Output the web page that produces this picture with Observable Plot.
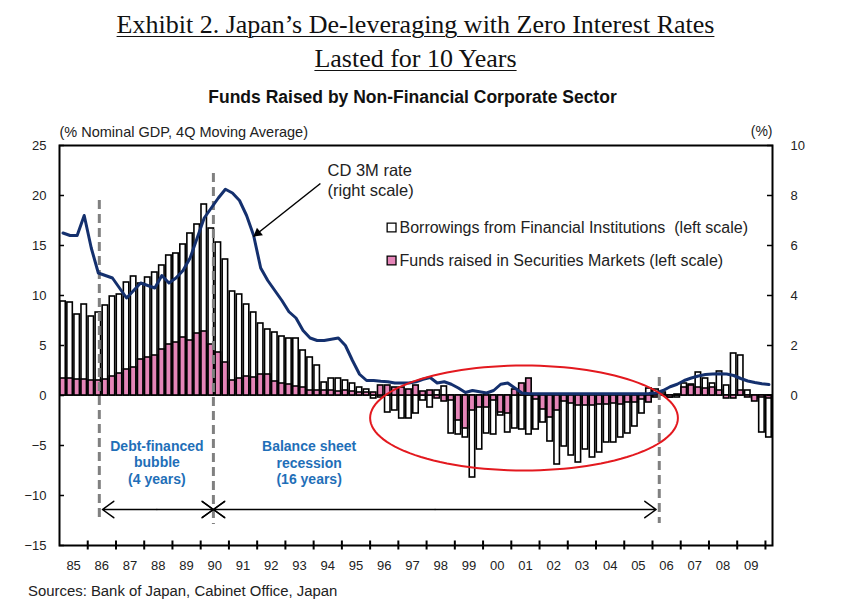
<!DOCTYPE html>
<html><head><meta charset="utf-8">
<script src="https://cdn.jsdelivr.net/npm/d3@7"></script>
<script src="https://cdn.jsdelivr.net/npm/@observablehq/plot@0.6"></script>
<style>
body{margin:0;width:843px;height:609px;position:relative;background:#fff;overflow:hidden;font-family:"Liberation Sans",Arial,sans-serif;color:#222}
.t{position:absolute;left:-6px;width:843px;text-align:center;white-space:nowrap}
.t1{top:10px;font-family:"Liberation Serif","Times New Roman",serif;font-size:26px;line-height:30px;text-decoration:underline;text-decoration-thickness:1px;text-underline-offset:3px;color:#111}
.t2{top:44px;font-family:"Liberation Serif","Times New Roman",serif;font-size:26px;line-height:30px;text-decoration:underline;text-decoration-thickness:1px;text-underline-offset:3px;color:#111}
.t3{top:86px;left:-9px;font-size:17.5px;line-height:22px;font-weight:bold;color:#111}
#chart{position:absolute;left:0;top:110px}
.src{position:absolute;left:28px;top:582px;font-size:14.9px;line-height:18px;color:#222}
</style></head>
<body>
<div class="t t1">Exhibit 2. Japan’s De-leveraging with Zero Interest Rates</div>
<div class="t t2">Lasted for 10 Years</div>
<div class="t t3">Funds Raised by Non-Financial Corporate Sector</div>
<div id="chart"></div>
<div class="src">Sources: Bank of Japan, Cabinet Office, Japan</div>
<script>
// Years (category bands) and their tick labels
const years = [1985,1986,1987,1988,1989,1990,1991,1992,1993,1994,1995,1996,1997,1998,1999,2000,2001,2002,2003,2004,2005,2006,2007,2008,2009];
const yearLabels = ["85","86","87","88","89","90","91","92","93","94","95","96","97","98","99","00","01","02","03","04","05","06","07","08","09"];

// Quarterly values, 1985Q1 .. 2010Q1 (% of nominal GDP, left scale)
const borrowings = [
  9.4, 9.3, 8.1, 9.1,   7.9, 8.3, 9.0, 9.9,   10.1, 11.3, 11.9, 11.2,  11.8, 12.3, 13.0, 14.0,
  14.2, 15.1, 16.2, 17.1,  19.1, 16.7, 15.3, 13.6,  10.4, 10.1, 9.1, 8.3,  7.2, 6.6, 6.3, 5.9,
  5.7, 5.7, 4.5, 3.8,   3.0, 1.3, 1.7, 1.7,   1.5, 1.2, 0.8, 0.6,   -0.3, -0.2, -1.7, -1.5,
  -2.3, -2.3, -1.8, -0.5,  -1.2, 0.5, 0.9, -3.8,  -3.9, -4.2, -8.2, -5.4,  -3.8, -3.9, -2.0, -3.7,
  -3.3, -3.4, -3.9, -3.4,  -2.7, -4.6, -6.9, -5.1,  -6.0, -6.7, -5.4, -6.2,  -5.7, -4.7, -4.7, -4.2,
  -3.8, -3.1, -1.8, 0.7,  0.6, 0.3, -0.2, -0.2,  1.2, 1.1, 2.3, 1.7,  1.2, 2.4, 1.0, 4.2,
  4.0, 0.5, -0.3, -3.7,  -4.2
];
const securities = [
  1.7, 1.7, 1.6, 1.6,   1.5, 1.5, 1.6, 1.9,   2.2, 2.6, 2.8, 3.6,   3.8, 4.0, 4.6, 5.1,
  5.3, 5.8, 5.5, 6.2,   6.4, 5.1, 4.3, 3.3,   1.5, 1.7, 1.9, 1.8,   2.1, 2.1, 1.4, 1.2,
  1.1, 0.9, 0.8, 0.5,   0.5, 0.5, 0.5, 0.4,   0.5, 0.4, 0.3, 0.3,   0.3, 1.0, 1.0, 0.8,
  0.8, 0.6, 1.0, 0.4,   0.5, -0.3, -0.6, -0.5,  -2.5, -3.3, -1.5, -1.2,  -1.2, -0.5, -1.7, -1.8,
  0.6, 1.2, 1.7, -0.4,  -1.4, -2.2, -1.5, -0.6,  -0.8, -1.0, -1.0, -1.0,  -0.9, -0.9, -0.8, -0.9,
  -0.7, -0.7, -0.4, -0.7,  -0.2, 0.1, -0.2, 0.1,  0.8, 1.0, 0.8, 0.7,  0.8, 0.5, -0.3, -0.3,
  0.5, -0.2, -0.6, -0.2,  -0.3
];
// CD 3M rate (%, right scale)
const cdRate = [
  6.5, 6.4, 6.4, 7.2,   5.9, 4.9, 4.8, 4.7,   4.3, 3.9, 4.2, 4.5,   4.4, 4.3, 4.8, 4.5,
  4.7, 5.0, 5.5, 6.3,   7.1, 7.5, 7.9, 8.25,  8.1, 7.8, 7.2, 6.4,   5.1, 4.6, 4.2, 3.8,
  3.35, 3.1, 2.6, 2.3,  2.2, 2.2, 2.25, 2.3,  2.0, 1.4, 0.85, 0.6,  0.6, 0.57, 0.55, 0.5,
  0.5, 0.5, 0.55, 0.65, 0.72, 0.5, 0.55, 0.45, 0.3, 0.12, 0.2, 0.15,  0.1, 0.2, 0.45, 0.5,
  0.3, 0.1, 0.07, 0.07, 0.07, 0.07, 0.07, 0.07, 0.07, 0.07, 0.07, 0.07, 0.07, 0.07, 0.07, 0.07,
  0.07, 0.07, 0.07, 0.08, 0.1, 0.2, 0.35, 0.45, 0.6, 0.7, 0.78, 0.84, 0.86, 0.87, 0.86, 0.8,
  0.68, 0.58, 0.52, 0.47, 0.44
];
const leftTicks = [-15, -10, -5, 0, 5, 10, 15, 20, 25];
const rightTicks = [0, 2, 4, 6, 8, 10];
const rightFactor = 2.5; // 10 on the right scale = 25 on the left scale

const legendItems = ["Borrowings from Financial Institutions\u00a0 (left scale)", "Funds raised in Securities Markets (left scale)"];
const phaseLines = [
  {x: 1986.41, y1: 19.5, y2: -12.5},
  {x: 1990.45, y1: 22.2, y2: -12.9},
  {x: 2006.24, y1: 1.8, y2: -12.8}
];
// double-headed period arrows, drawn as two halves each
const arrowY = -11.4;
const periodArrows = [
  {x1: 1988.45, x2: 1986.52},
  {x1: 1988.45, x2: 1990.45},
  {x1: 1998.3, x2: 1990.45},
  {x1: 1998.3, x2: 2006.13}
];
// the two heads meeting at the 1990 boundary form an "X"
const crossAt = 1990.45;
const crossWings = [{dx: -0.4, dy: 0.82}, {dx: -0.4, dy: -0.82}, {dx: 0.4, dy: 0.82}, {dx: 0.4, dy: -0.82}];
const ellipse = {cx: 2001.45, cy: -2.25, rx: 5.45, ry: 5.25};

const pink = "#e585b8";
const navy = "#14306e";
const blue = "#1f6fb8";

const quarters = borrowings.map((b, i) => ({t: 1985 + i / 4, borrow: b, sec: securities[i], rate: cdRate[i]}));
const ellipsePts = d3.range(0, 361, 3).map(a => ({
  x: ellipse.cx + ellipse.rx * Math.cos(a * Math.PI / 180),
  y: ellipse.cy + ellipse.ry * Math.sin(a * Math.PI / 180)
}));

const chart = Plot.plot({
  width: 843, height: 468,
  marginLeft: 59, marginRight: 71, marginTop: 35, marginBottom: 33,
  x: {domain: [1985, 2010.25]},
  y: {domain: [-15, 25]},
  style: {fontFamily: "'Liberation Sans', Arial, sans-serif", fontSize: "12.5px", color: "#222", background: "white", overflow: "visible"},
  marks: [
    Plot.rect(quarters, {x1: "t", x2: d => d.t + 0.25, y1: 0, y2: "borrow", fill: "white", stroke: "black", strokeWidth: 1.6, insetLeft: 0.8, insetRight: 0.8}),
    Plot.rect(quarters, {x1: "t", x2: d => d.t + 0.25, y1: 0, y2: "sec", fill: pink, stroke: "black", strokeWidth: 1.6, insetLeft: 0.8, insetRight: 0.8}),
    Plot.ruleX(phaseLines, {x: "x", y1: "y1", y2: "y2", stroke: "#808080", strokeWidth: 3, strokeDasharray: "9,5"}),
    Plot.line(quarters, {x: d => d.t + 0.125, y: d => d.rate * rightFactor, stroke: navy, strokeWidth: 3}),
    Plot.line(ellipsePts, {x: "x", y: "y", stroke: "#e3191f", strokeWidth: 2}),
    Plot.arrow(periodArrows, {x1: "x1", x2: "x2", y1: arrowY, y2: arrowY, stroke: "black", strokeWidth: 1.5, headLength: 14, headAngle: 72}),
    Plot.link(crossWings, {x1: d => crossAt + d.dx, y1: d => arrowY + d.dy, x2: crossAt, y2: arrowY, stroke: "black", strokeWidth: 1.5}),
    Plot.link([0], {x1: 1994.24, y1: 21.2, x2: 1991.87, y2: 15.9, stroke: "black", strokeWidth: 1.5}),
    Plot.dot([0], {x: 1992.02, y: 16.23, symbol: "triangle", r: 3.6, fill: "black", rotate: 232}),
    Plot.text(["CD 3M rate\n(right scale)"], {x: 1994.49, y: 21.6, textAnchor: "start", fontSize: 16.5, lineHeight: 1.22, fill: "#222"}),
    Plot.dot([legendItems[0]], {x: 1996.76, y: 16.8, symbol: "square", r: 5, fill: "white", stroke: "black", strokeWidth: 1.3}),
    Plot.dot([legendItems[1]], {x: 1996.76, y: 13.5, symbol: "square", r: 5, fill: pink, stroke: "black", strokeWidth: 1.3}),
    Plot.text([legendItems[0]], {x: 1997.04, y: 16.8, textAnchor: "start", fontSize: 16, fill: "#222"}),
    Plot.text([legendItems[1]], {x: 1997.04, y: 13.5, textAnchor: "start", fontSize: 16, fill: "#222"}),
    Plot.text(["Debt-financed\nbubble\n(4 years)"], {x: 1988.45, y: -6.65, fill: blue, fontWeight: "bold", fontSize: 14, lineHeight: 1.18}),
    Plot.text(["Balance sheet\nrecession\n(16 years)"], {x: 1993.84, y: -6.7, fill: blue, fontWeight: "bold", fontSize: 14, lineHeight: 1.18}),
    Plot.text(["(% Nominal GDP, 4Q Moving Average)"], {frameAnchor: "top-left", dy: -19, textAnchor: "start", fontSize: 14.5, fill: "#222"}),
    Plot.text(["(%)"], {frameAnchor: "top-right", dy: -19, textAnchor: "end", fontSize: 14, fill: "#222"}),
    Plot.axisY({anchor: "left", ticks: leftTicks, tickSize: -5, tickPadding: 18, fontSize: 13, stroke: "black", strokeWidth: 1.5}),
    Plot.axisY({anchor: "right", ticks: rightTicks.map(v => v * rightFactor), tickFormat: d => String(d / rightFactor), tickSize: -6, tickPadding: 24, fontSize: 13, stroke: "black", strokeWidth: 1.5}),
    Plot.axisX({ticks: years.slice(1).concat([2010]), tickSize: 9, dy: -4.5, tickFormat: () => "", stroke: "black", strokeWidth: 2}),
    Plot.axisX({ticks: years.map(y => y + 0.5), tickSize: 0, tickPadding: 15, fontSize: 13, tickFormat: d => yearLabels[Math.round(d - 0.5) - 1985]}),
    Plot.frame({stroke: "black", strokeWidth: 2})
  ]
});
document.getElementById("chart").appendChild(chart);
</script>
</body></html>
